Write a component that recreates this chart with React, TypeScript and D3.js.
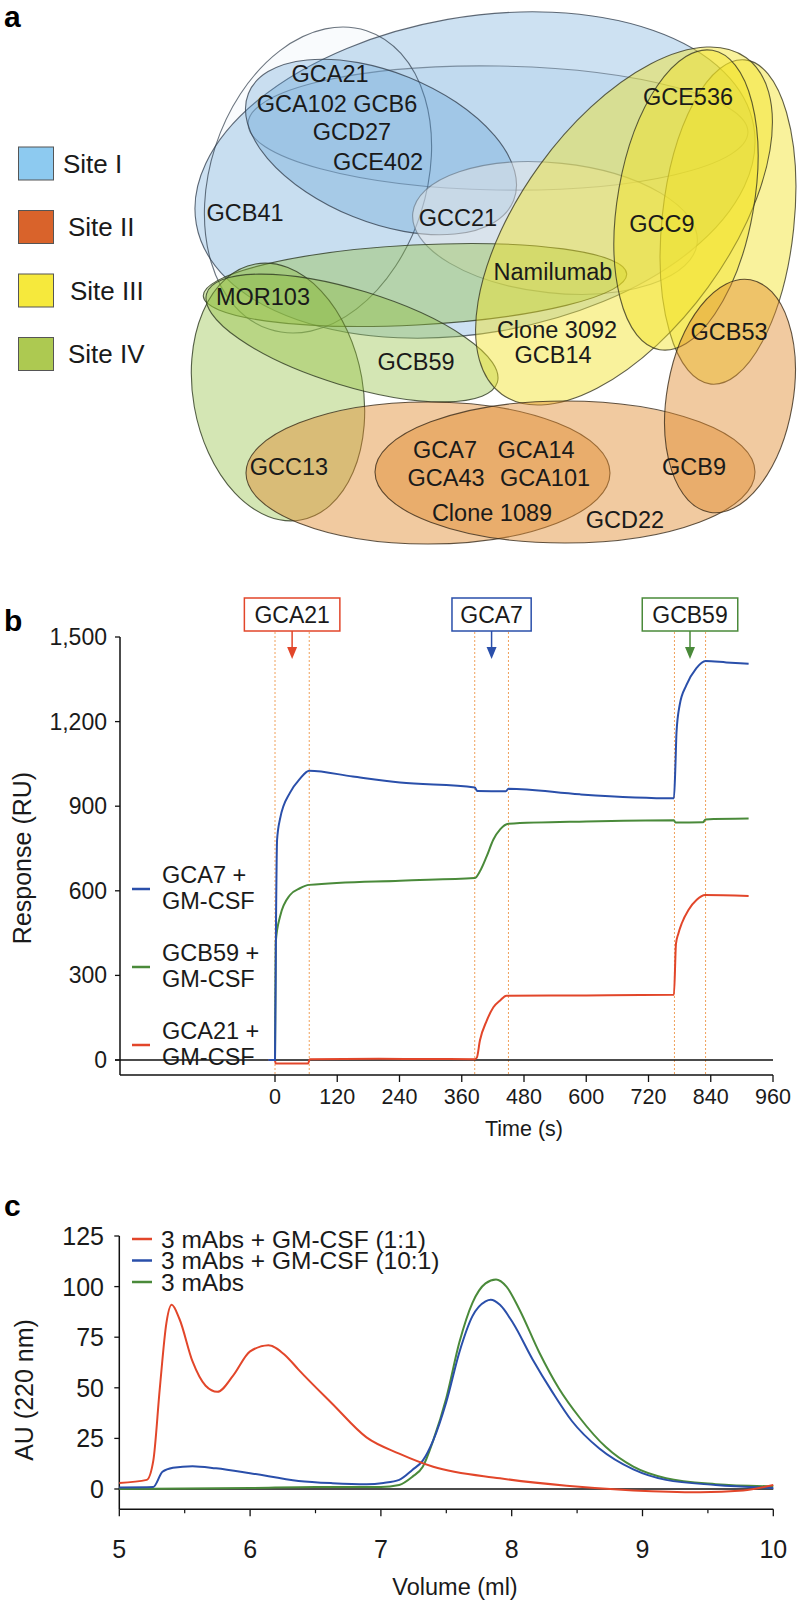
import * as d3 from 'd3';

const FONT = '"Liberation Sans", Arial, Helvetica, sans-serif';

// ---------- panel a: epitope bins ----------
const siteNames = ['Site I', 'Site II', 'Site III', 'Site IV'];
const siteColors = ['#8dcaf0', '#d9632b', '#f6e93c', '#adc951'];

// [cx, cy, rx, ry, rotation, family]
const binEllipses: [number, number, number, number, number, string][] = [
  [475, 175, 283, 158, -10, 'blue'],
  [318, 180, 108, 157, 18, 'faint'],
  [498, 128, 250, 62, 1, 'faintBlue'],
  [381, 147, 143, 75, 22, 'blue'],
  [555, 228, 143, 65, 6, 'grey'],
  [415, 285, 212, 40, -3, 'green'],
  [278, 392, 85, 130, -10, 'green'],
  [352, 338, 152, 48, 17, 'green'],
  [728, 222, 66, 163, 6, 'yellow'],
  [624, 226, 208, 104, -54, 'yellow'],
  [686, 200, 68, 152, 10, 'yellow'],
  [428, 473, 182, 71, 0, 'orange'],
  [565, 472, 190, 71, 0, 'orange'],
  [730, 396, 63, 118, 10, 'orange'],
];

const binLabels: [string, number, number][] = [
  ['GCA21', 330, 74],
  ['GCA102 GCB6', 337, 104],
  ['GCD27', 352, 132],
  ['GCE402', 378, 162],
  ['GCB41', 245, 213],
  ['GCC21', 458, 218],
  ['GCE536', 688, 97],
  ['GCC9', 662, 224],
  ['Namilumab', 553, 272],
  ['MOR103', 263, 297],
  ['GCB59', 416, 362],
  ['Clone 3092', 557, 330],
  ['GCB14', 553, 355],
  ['GCB53', 729, 332],
  ['GCC13', 289, 467],
  ['GCA7', 445, 450],
  ['GCA14', 536, 450],
  ['GCA43', 446, 478],
  ['GCA101', 545, 478],
  ['Clone 1089', 492, 513],
  ['GCB9', 694, 467],
  ['GCD22', 625, 520],
];

const familyStyle: Record<string, { fill: string; op: number; stroke: string; sop: number }> = {
  blue: { fill: '#5b9bd5', op: 0.3, stroke: '#2d3a48', sop: 0.75 },
  faint: { fill: '#5b9bd5', op: 0.04, stroke: '#2d3a48', sop: 0.7 },
  faintBlue: { fill: '#5b9bd5', op: 0.1, stroke: '#4a5a6a', sop: 0.6 },
  grey: { fill: '#e6e6e6', op: 0.5, stroke: '#5d6a78', sop: 0.6 },
  green: { fill: '#8fbc3a', op: 0.38, stroke: '#2e3a20', sop: 0.8 },
  yellow: { fill: '#f2e224', op: 0.45, stroke: '#3a3820', sop: 0.8 },
  orange: { fill: '#e08a2c', op: 0.45, stroke: '#3a2a18', sop: 0.8 },
};

// ---------- panel b: SPR sensorgram ----------
const RED = '#e2462a';
const BLUE = '#2a4faa';
const GREEN = '#4a8a3a';

const timeTicks = [0, 120, 240, 360, 480, 600, 720, 840, 960];
const responseTicks = [0, 300, 600, 900, 1200, 1500];

const injections = [
  { start: 0, end: 66, label: 'GCA21', color: RED },
  { start: 385, end: 450, label: 'GCA7', color: BLUE },
  { start: 770, end: 830, label: 'GCB59', color: GREEN },
];

const sprGca7: [number, number][] = [
  [-13, 0], [0, 0], [2, 500], [4, 780], [9.6, 854], [29, 948], [48, 997], [66, 1026],
  [150, 1005], [241, 984], [385, 966], [390, 954], [445, 953], [450, 962], [588, 942],
  [769, 928], [772, 1050], [774, 1162], [780, 1258], [793, 1329], [812, 1389], [830, 1415],
  [870, 1410], [913, 1405],
];
const sprGcb59: [number, number][] = [
  [-13, 0], [0, 0], [1.5, 420], [9.6, 508], [29, 585], [48, 609], [66, 621], [241, 636],
  [385, 645], [395, 669], [408, 722], [421, 782], [434, 818], [450, 838], [600, 846],
  [769, 850], [772, 842], [825, 843], [830, 853], [913, 856],
];
const sprGca21: [number, number][] = [
  [-13, 0], [0, 0], [1, -12], [64, -12], [67, 3], [200, 4], [385, 3], [389, 8], [395, 69],
  [408, 139], [421, 187], [434, 211], [446, 228], [600, 229], [769, 231], [773, 413],
  [777.5, 448], [784, 484], [797, 532], [813, 568], [829, 585], [913, 582],
];

const sprLegend = [
  { l1: 'GCA7 +', l2: 'GM-CSF', color: BLUE },
  { l1: 'GCB59 +', l2: 'GM-CSF', color: GREEN },
  { l1: 'GCA21 +', l2: 'GM-CSF', color: RED },
];

// ---------- panel c: SEC traces ----------
const volumeTicks = [5, 6, 7, 8, 9, 10];
const volumeMinor = [5.5, 6.5, 7.5, 8.5, 9.5];
const auTicks = [0, 25, 50, 75, 100, 125];

const sec11: [number, number][] = [
  [5, 3], [5.21, 4.5], [5.26, 14], [5.31, 50], [5.36, 82], [5.4, 91], [5.46, 84], [5.56, 63],
  [5.66, 51], [5.75, 48], [5.87, 56], [6.0, 68], [6.14, 71], [6.27, 66], [6.37, 59],
  [6.63, 42], [6.89, 25.5], [7.14, 17.5], [7.4, 11], [7.91, 5.3], [8.42, 1.6], [8.93, -0.7],
  [9.44, -1.6], [9.77, -0.7], [10, 2],
];
const sec101: [number, number][] = [
  [5, 0.8], [5.26, 1], [5.33, 8.5], [5.41, 10.5], [5.56, 11.3], [5.74, 10.2], [6.0, 7.8],
  [6.37, 4], [6.63, 2.9], [6.89, 2.4], [7.02, 3], [7.14, 4.5], [7.24, 9.4], [7.32, 14],
  [7.4, 24], [7.5, 43], [7.6, 67.6], [7.7, 85.4], [7.8, 92.7], [7.84, 93.5], [7.91, 91],
  [8.01, 82], [8.16, 64], [8.31, 48], [8.46, 33.6], [8.67, 20], [8.93, 9.7], [9.18, 4.5],
  [9.56, 2], [10, 0.5],
];
const secMabs: [number, number][] = [
  [5, 0], [6, 0.5], [6.5, 1], [7.0, 1], [7.14, 2], [7.24, 6], [7.32, 11], [7.4, 24],
  [7.5, 45], [7.6, 72.5], [7.7, 92], [7.8, 101.6], [7.88, 103.5], [7.96, 100], [8.06, 88.6],
  [8.21, 67.6], [8.36, 49.8], [8.52, 35.2], [8.72, 20.7], [8.93, 11], [9.18, 5.3],
  [9.56, 2.4], [10, 1.3],
];

const secLegend = [
  { label: '3 mAbs + GM-CSF (1:1)', color: RED },
  { label: '3 mAbs + GM-CSF (10:1)', color: BLUE },
  { label: '3 mAbs', color: GREEN },
];

const App = (): JSX.Element => {
  // panel b scales
  const xb = d3.scaleLinear([0, 960], [275, 773]);
  const yb = d3.scaleLinear([0, 1500], [1060, 637]);
  const bAxisY = 1075;
  const bAxisX = 120;
  const lineB = d3
    .line<[number, number]>()
    .x((d) => xb(d[0]))
    .y((d) => yb(d[1]))
    .curve(d3.curveMonotoneX);

  // panel c scales
  const xc = d3.scaleLinear([5, 10], [119.3, 773.3]);
  const yc = d3.scaleLinear([0, 125], [1489, 1236]);
  const cAxisY = yc(-10);
  const lineC = d3
    .line<[number, number]>()
    .x((d) => xc(d[0]))
    .y((d) => yc(d[1]))
    .curve(d3.curveMonotoneX);

  const fmt = d3.format(',');

  return (
    <svg
      width={800}
      height={1608}
      viewBox="0 0 800 1608"
      style={{ position: 'absolute', left: 0, top: 0, background: '#fff' }}
      fontFamily={FONT}
    >
      <rect width={800} height={1608} fill="#fff" />

      {/* ---------- a ---------- */}
      <text x={4} y={27} fontSize={30} fontWeight="bold">a</text>
      {siteNames.map((s, i) => (
        <g key={s}>
          <rect x={18.5} y={147 + i * 63.5} width={35} height={33} fill={siteColors[i]} stroke="#555" strokeWidth={1} />
          <text x={63 + [0, 5, 7, 5][i]} y={163.5 + i * 63.5} fontSize={26} dominantBaseline="central" fill="#1a1a1a">
            {s}
          </text>
        </g>
      ))}
      {binEllipses.map(([cx, cy, rx, ry, rot, fam], i) => {
        const st = familyStyle[fam];
        return (
          <ellipse
            key={i}
            cx={cx}
            cy={cy}
            rx={rx}
            ry={ry}
            transform={`rotate(${rot} ${cx} ${cy})`}
            fill={st.fill}
            fillOpacity={st.op}
            stroke={st.stroke}
            strokeOpacity={st.sop}
            strokeWidth={1.1}
          />
        );
      })}
      {binLabels.map(([t, x, y]) => (
        <text key={t} x={x} y={y} fontSize={23.5} textAnchor="middle" dominantBaseline="central" fill="#1a1a1a">
          {t}
        </text>
      ))}

      {/* ---------- b ---------- */}
      <text x={4} y={631} fontSize={30} fontWeight="bold">b</text>
      {injections.map((inj) => {
        const cx = xb((inj.start + inj.end) / 2);
        const w = 14 + inj.label.length * 16.3;
        return (
          <g key={inj.label}>
            {[inj.start, inj.end].map((t) => (
              <line
                key={t}
                x1={xb(t)}
                x2={xb(t)}
                y1={632}
                y2={bAxisY}
                stroke="#f0a05a"
                strokeWidth={1}
                strokeDasharray="2,2"
              />
            ))}
            <rect x={cx - w / 2} y={598} width={w} height={33} fill="#fff" stroke={inj.color} strokeWidth={1.5} />
            <text x={cx} y={615} fontSize={23} textAnchor="middle" dominantBaseline="central" fill="#1a1a1a">
              {inj.label}
            </text>
            <line x1={cx} x2={cx} y1={631} y2={648} stroke={inj.color} strokeWidth={1.5} />
            <path d={`M${cx - 5},${647} L${cx + 5},${647} L${cx},${659} Z`} fill={inj.color} />
          </g>
        );
      })}
      {/* axes */}
      <line x1={bAxisX} x2={bAxisX} y1={637} y2={bAxisY} stroke="#111" strokeWidth={1.5} />
      <line x1={bAxisX} x2={xb(960)} y1={bAxisY} y2={bAxisY} stroke="#111" strokeWidth={1.5} />
      <line x1={bAxisX - 5} x2={xb(960)} y1={yb(0)} y2={yb(0)} stroke="#111" strokeWidth={1.3} />
      {responseTicks.map((v) => (
        <g key={v}>
          <line x1={bAxisX - 5} x2={bAxisX} y1={yb(v)} y2={yb(v)} stroke="#111" strokeWidth={1.3} />
          <text x={107} y={yb(v)} fontSize={23} textAnchor="end" dominantBaseline="central" fill="#1a1a1a">
            {fmt(v)}
          </text>
        </g>
      ))}
      {timeTicks.map((t) => (
        <g key={t}>
          <line x1={xb(t)} x2={xb(t)} y1={bAxisY} y2={bAxisY + 7} stroke="#111" strokeWidth={1.3} />
          <text x={xb(t)} y={1104} fontSize={21.5} textAnchor="middle" fill="#1a1a1a">
            {t}
          </text>
        </g>
      ))}
      <text x={xb(480)} y={1136} fontSize={21.5} textAnchor="middle" fill="#1a1a1a">
        Time (s)
      </text>
      <text
        transform={`translate(22,${858}) rotate(-90)`}
        fontSize={25}
        textAnchor="middle"
        dominantBaseline="central"
        fill="#1a1a1a"
      >
        Response (RU)
      </text>
      {sprLegend.map((e, i) => {
        const ly = 889 + i * 78;
        return (
          <g key={e.l1}>
            <line x1={132} x2={150} y1={ly} y2={ly} stroke={e.color} strokeWidth={2.5} />
            <text x={162} y={ly - 14} fontSize={23.5} dominantBaseline="central" fill="#1a1a1a">{e.l1}</text>
            <text x={162} y={ly + 12} fontSize={23.5} dominantBaseline="central" fill="#1a1a1a">{e.l2}</text>
          </g>
        );
      })}
      <path d={lineB(sprGcb59) ?? ''} fill="none" stroke={GREEN} strokeWidth={2} />
      <path d={lineB(sprGca21) ?? ''} fill="none" stroke={RED} strokeWidth={2} />
      <path d={lineB(sprGca7) ?? ''} fill="none" stroke={BLUE} strokeWidth={2} />

      {/* ---------- c ---------- */}
      <text x={4} y={1216} fontSize={30} fontWeight="bold">c</text>
      <line x1={xc(5)} x2={xc(5)} y1={yc(125)} y2={cAxisY} stroke="#111" strokeWidth={1.5} />
      <line x1={xc(5)} x2={xc(10)} y1={cAxisY} y2={cAxisY} stroke="#111" strokeWidth={1.5} />
      <line x1={xc(5)} x2={xc(10)} y1={yc(0)} y2={yc(0)} stroke="#111" strokeWidth={1.3} />
      {auTicks.map((v) => (
        <g key={v}>
          <line x1={xc(5) - 5} x2={xc(5)} y1={yc(v)} y2={yc(v)} stroke="#111" strokeWidth={1.3} />
          <text x={104} y={yc(v)} fontSize={25} textAnchor="end" dominantBaseline="central" fill="#1a1a1a">
            {v}
          </text>
        </g>
      ))}
      {volumeTicks.map((v) => (
        <g key={v}>
          <line x1={xc(v)} x2={xc(v)} y1={cAxisY} y2={cAxisY + 7} stroke="#111" strokeWidth={1.3} />
          <text x={xc(v)} y={1558} fontSize={25} textAnchor="middle" fill="#1a1a1a">
            {v}
          </text>
        </g>
      ))}
      {volumeMinor.map((v) => (
        <line key={v} x1={xc(v)} x2={xc(v)} y1={cAxisY} y2={cAxisY + 4} stroke="#111" strokeWidth={1.2} />
      ))}
      <text x={455} y={1595} fontSize={23.5} textAnchor="middle" fill="#1a1a1a">
        Volume (ml)
      </text>
      <text
        transform={`translate(24,${1390}) rotate(-90)`}
        fontSize={25}
        textAnchor="middle"
        dominantBaseline="central"
        fill="#1a1a1a"
      >
        AU (220 nm)
      </text>
      {secLegend.map((e, i) => {
        const ly = 1239 + i * 21.5;
        return (
          <g key={e.label}>
            <line x1={132} x2={152} y1={ly} y2={ly} stroke={e.color} strokeWidth={2.5} />
            <text x={161} y={ly} fontSize={24.5} dominantBaseline="central" fill="#1a1a1a">
              {e.label}
            </text>
          </g>
        );
      })}
      <path d={lineC(secMabs) ?? ''} fill="none" stroke={GREEN} strokeWidth={2} />
      <path d={lineC(sec101) ?? ''} fill="none" stroke={BLUE} strokeWidth={2} />
      <path d={lineC(sec11) ?? ''} fill="none" stroke={RED} strokeWidth={2} />
    </svg>
  );
};

export default App;
